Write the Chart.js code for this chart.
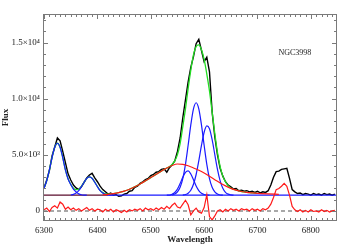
<!DOCTYPE html>
<html>
<head>
<meta charset="utf-8">
<script src="https://cdn.jsdelivr.net/npm/chart.js@4.4.1/dist/chart.umd.min.js"></script>
<style>
    html, body { margin: 0; padding: 0; background: #fff; }
</style>
</head>
<body>
<canvas id="spec" width="350" height="250"></canvas>
<script>
// ========================================
// NGC3998 spectrum fit (Halpha / [NII] / [OI] / [SII] region)
// ========================================

const FONT = '"Liberation Serif", "DejaVu Serif", serif';

// Observed spectrum, 5 A grid
const wave = [
    6300, 6305, 6310, 6315, 6320, 6325, 6330, 6335, 6340, 6345,
    6350, 6355, 6360, 6365, 6370, 6375, 6380, 6385, 6390, 6395,
    6400, 6405, 6410, 6415, 6420, 6425, 6430, 6435, 6440, 6445,
    6450, 6455, 6460, 6465, 6470, 6475, 6480, 6485, 6490, 6495,
    6500, 6505, 6510, 6515, 6520, 6525, 6530, 6535, 6540, 6545,
    6550, 6555, 6560, 6565, 6570, 6575, 6580, 6585, 6590, 6595,
    6600, 6605, 6610, 6615, 6620, 6625, 6630, 6635, 6640, 6645,
    6650, 6655, 6660, 6665, 6670, 6675, 6680, 6685, 6690, 6695,
    6700, 6705, 6710, 6715, 6720, 6725, 6730, 6735, 6740, 6745,
    6750, 6755, 6760, 6765, 6770, 6775, 6780, 6785, 6790, 6795,
    6800, 6805, 6810, 6815, 6820, 6825, 6830, 6835, 6840, 6845
];

const fluxObs = [
    2050, 2750, 3600, 4900, 5700, 6500, 6250, 5300, 4300, 3300,
    2750, 2300, 2050, 1900, 2150, 2550, 2950, 3200, 3350, 2950,
    2600, 2200, 1900, 1700, 1500, 1600, 1400, 1450, 1300, 1350,
    1500, 1550, 1750, 1800, 2100, 2200, 2450, 2600, 2800, 2900,
    3150, 3250, 3450, 3500, 3700, 3750, 3450, 3850, 4100, 4450,
    5300, 6500, 8300, 9900, 11500, 12800, 13750, 14900, 15300, 14300,
    13300, 13700, 12400, 8800, 6600, 5000, 3800, 3100, 2600, 2300,
    2150, 1950, 2000, 1800, 1850, 1750, 1800, 1700, 1750, 1650,
    1750, 1600, 1700, 1650, 1800, 2300, 3000, 3500, 3550, 3700,
    3750, 3800, 2900, 1900, 1700, 1550, 1600, 1450, 1550, 1500,
    1400, 1550, 1450, 1500, 1400, 1550, 1450, 1500, 1400, 1500
];

// Residual (data - fit), same grid
const residual = [
    100, 250, -50, 300, 450, 250, 800, 600, 150, 350,
    100, 250, 50, 200, 0, 150, 300, 50, 200, 0,
    150, 100, -100, 150, 0, 150, -100, 100, 0, -150,
    50, -100, 100, 0, 150, 50, 200, 0, 250, 100,
    200, 50, 250, 100, 300, 150, 400, 200, 500, 700,
    350, 250, 600, 950, 550, -350, 0, 250, -100, -200,
    300, 1450, -500, -800, -450, 0, 100, -100, 150, 0,
    200, 50, 150, 0, 200, 100, 150, 0, 200, 50,
    150, 0, 200, 100, 250, 600, 1200, 1900, 2000, 2200,
    2450, 2200, 1400, 400, 100, -50, 100, -100, 50, -100,
    100, -50, 0, -100, 100, -50, 50, -100, 0, 50
];

// Total model (green), 6300-6700 on the same grid
const fitFlux = [
    2030, 2690, 3650, 4760, 5670, 6030, 5670, 4760, 3660, 2860,
    2370, 2020, 1890, 1920, 2190, 2560, 2900, 3030, 2910, 2560,
    2170, 1830, 1630, 1520, 1500, 1510, 1540, 1580, 1630, 1690,
    1760, 1840, 1930, 2040, 2150, 2270, 2400, 2540, 2680, 2820,
    2970, 3110, 3260, 3400, 3550, 3690, 3820, 3950, 4140, 4460,
    5020, 6000, 7500, 9100, 10900, 12550, 13900, 14650, 14800, 14370,
    13500, 12200, 10700, 8800, 6900, 5200, 3950, 3100, 2600, 2250,
    2040, 1930, 1850, 1790, 1730, 1690, 1650, 1620, 1600, 1580,
    1560
];

// Broad Halpha component (red)
const broadWave = [6410, 6420, 6430, 6440, 6450, 6460,
    6470, 6480, 6490, 6500, 6510, 6520, 6530, 6540, 6550, 6560,
    6570, 6580, 6590, 6600, 6610, 6620, 6630, 6640, 6650, 6660,
    6670, 6680, 6690, 6700, 6720, 6740];
const broadFlux = [1440, 1480, 1540, 1630, 1760, 1930,
    2150, 2400, 2680, 2970, 3260, 3550, 3820, 4050, 4180, 4150,
    4020, 3830, 3620, 3370, 3080, 2780, 2480, 2230, 2010, 1850,
    1730, 1650, 1600, 1560, 1510, 1480];

// Narrow components (blue)
const oi6300Wave = [6300, 6305, 6310, 6315, 6320, 6325, 6330, 6335, 6340, 6345, 6350, 6355, 6360, 6365, 6370, 6375, 6380];
const oi6300Flux = [2030, 2690, 3650, 4760, 5670, 6030, 5670, 4760, 3650, 2850, 2350, 1950, 1700, 1520, 1440, 1410, 1400];
const oi6363Wave = [6350, 6355, 6360, 6365, 6370, 6375, 6380, 6385, 6390, 6395, 6400, 6405, 6410, 6415, 6420, 6425, 6430];
const oi6363Flux = [1420, 1470, 1590, 1800, 2150, 2550, 2900, 3030, 2900, 2550, 2150, 1800, 1590, 1470, 1420, 1405, 1400];
const nii6548Wave = [6530, 6535, 6540, 6545, 6550, 6555, 6560, 6565, 6570, 6575, 6580, 6585, 6590, 6595, 6600, 6605, 6610];
const nii6548Flux = [1400, 1410, 1490, 1640, 1950, 2440, 3000, 3440, 3570, 3290, 2770, 2220, 1810, 1570, 1460, 1415, 1400];
const haNarrowWave = [6540, 6545, 6550, 6555, 6560, 6565, 6570, 6575, 6580, 6585, 6590, 6595, 6600, 6605, 6610, 6615, 6620, 6625, 6630, 6635];
const haNarrowFlux = [1420, 1500, 1690, 2100, 2880, 4150, 5850, 7660, 9100, 9640, 9100, 7660, 5850, 4150, 2880, 2100, 1690, 1500, 1420, 1400];
const nii6583Wave = [6560, 6565, 6570, 6575, 6580, 6585, 6590, 6595, 6600, 6605, 6610, 6615, 6620, 6625, 6630, 6635, 6640, 6645, 6650, 6655];
const nii6583Flux = [1410, 1460, 1580, 1845, 2370, 3245, 4465, 5840, 7010, 7570, 7320, 6350, 5015, 3700, 2675, 2020, 1660, 1495, 1430, 1400];

// Continuum level and residual zero line
const contLeftWave = [6298, 6420];
const contRightWave = [6420, 6849];
const contFlux = [1400, 1400];
const zeroWave = [6298, 6849];
const zeroFlux = [0, 0];

// Axes
const xRange = [6298, 6849];
const yRange = [-900, 17550];
const xTicks = [6300, 6400, 6500, 6600, 6700, 6800];
const yTicks = [0, 5000, 10000, 15000];
const yTickLabels = ['0', '5.0\u00d710\u00b3', '1.0\u00d710\u2074', '1.5\u00d710\u2074'];
const objectName = 'NGC3998';
const objectNameAt = [6770, 14100];

const pts = (xs, ys) => xs.map((x, i) => ({ x: x, y: ys[i] }));

function line(data, color, width, extra) {
    return Object.assign({
        data: data,
        borderColor: color,
        borderWidth: width,
        pointRadius: 0,
        fill: false,
        tension: 0
    }, extra || {});
}

const smooth = { cubicInterpolationMode: 'monotone' };
const BLUE = '#1a1aff';

// IDL-style box with inward ticks + object label
const idlFrame = {
    id: 'idlFrame',
    afterDatasetsDraw(chart) {
        const { ctx, chartArea: a, scales: { x, y } } = chart;
        ctx.save();
        ctx.strokeStyle = '#7a7a7a';
        ctx.lineWidth = 1;
        ctx.strokeRect(a.left + 0.5, a.top + 0.5, a.right - a.left - 1, a.bottom - a.top - 1);

        ctx.beginPath();
        for (let v = 6300; v <= xRange[1]; v += 10) {
            const px = Math.round(x.getPixelForValue(v)) + 0.5;
            const len = v % 100 === 0 ? 5 : 3;
            ctx.moveTo(px, a.bottom); ctx.lineTo(px, a.bottom - len);
            ctx.moveTo(px, a.top); ctx.lineTo(px, a.top + len);
        }
        for (let v = 0; v <= yRange[1]; v += 1000) {
            const py = Math.round(y.getPixelForValue(v)) + 0.5;
            const len = v % 5000 === 0 ? 5 : 3;
            ctx.moveTo(a.left, py); ctx.lineTo(a.left + len, py);
            ctx.moveTo(a.right, py); ctx.lineTo(a.right - len, py);
        }
        ctx.stroke();

        ctx.fillStyle = '#222';
        ctx.font = '8px ' + FONT;
        ctx.textAlign = 'center';
        ctx.textBaseline = 'middle';
        ctx.fillText(objectName, x.getPixelForValue(objectNameAt[0]), y.getPixelForValue(objectNameAt[1]));
        ctx.restore();
    }
};

const ctx = document.getElementById('spec').getContext('2d');

new Chart(ctx, {
    type: 'line',
    data: {
        datasets: [
            line(pts(wave, residual), '#ff1a1a', 1.2),
            line(pts(broadWave, broadFlux), '#ff1a1a', 1.2, smooth),
            line(pts(oi6300Wave, oi6300Flux), BLUE, 1.2, smooth),
            line(pts(oi6363Wave, oi6363Flux), BLUE, 1.2, smooth),
            line(pts(nii6548Wave, nii6548Flux), BLUE, 1.2, smooth),
            line(pts(haNarrowWave, haNarrowFlux), BLUE, 1.2, smooth),
            line(pts(nii6583Wave, nii6583Flux), BLUE, 1.2, smooth),
            line(pts(contLeftWave, contFlux), '#5a0c2c', 1.3),
            line(pts(contRightWave, contFlux), BLUE, 1.3),
            line(pts(zeroWave, zeroFlux), '#8c8c8c', 1.5, { borderDash: [4, 3] }),
            line(pts(wave.slice(0, fitFlux.length), fitFlux), '#22dd22', 1.3, smooth),
            line(pts(wave, fluxObs), '#000000', 1.4)
        ]
    },
    options: {
        responsive: false,
        animation: false,
        devicePixelRatio: 1,
        layout: { padding: { top: 14, right: 13, left: 0, bottom: 0 } },
        plugins: {
            legend: { display: false },
            tooltip: { enabled: false }
        },
        scales: {
            x: {
                type: 'linear',
                min: xRange[0],
                max: xRange[1],
                grid: { display: false, drawTicks: false },
                border: { display: false },
                afterBuildTicks: (s) => { s.ticks = xTicks.map(v => ({ value: v })); },
                afterFit: (s) => { s.height = 29; },
                ticks: {
                    autoSkip: false,
                    maxRotation: 0,
                    padding: 4,
                    color: '#222',
                    font: { family: FONT, size: 9 },
                    callback: (v) => String(v)
                },
                title: {
                    display: true,
                    text: 'Wavelength',
                    color: '#222',
                    font: { family: FONT, size: 9, weight: 'bold' },
                    padding: { top: 0, bottom: 5 }
                }
            },
            y: {
                type: 'linear',
                min: yRange[0],
                max: yRange[1],
                grid: { display: false, drawTicks: false },
                border: { display: false },
                afterBuildTicks: (s) => { s.ticks = yTicks.map(v => ({ value: v })); },
                afterFit: (s) => { s.width = 43; },
                ticks: {
                    padding: 3,
                    color: '#222',
                    font: { family: FONT, size: 9 },
                    callback: (v) => yTickLabels[yTicks.indexOf(v)]
                },
                title: {
                    display: true,
                    text: 'Flux',
                    color: '#222',
                    font: { family: FONT, size: 9, weight: 'bold' },
                    padding: { top: 0, bottom: 0 }
                }
            }
        }
    },
    plugins: [idlFrame]
});
</script>
</body>
</html>
